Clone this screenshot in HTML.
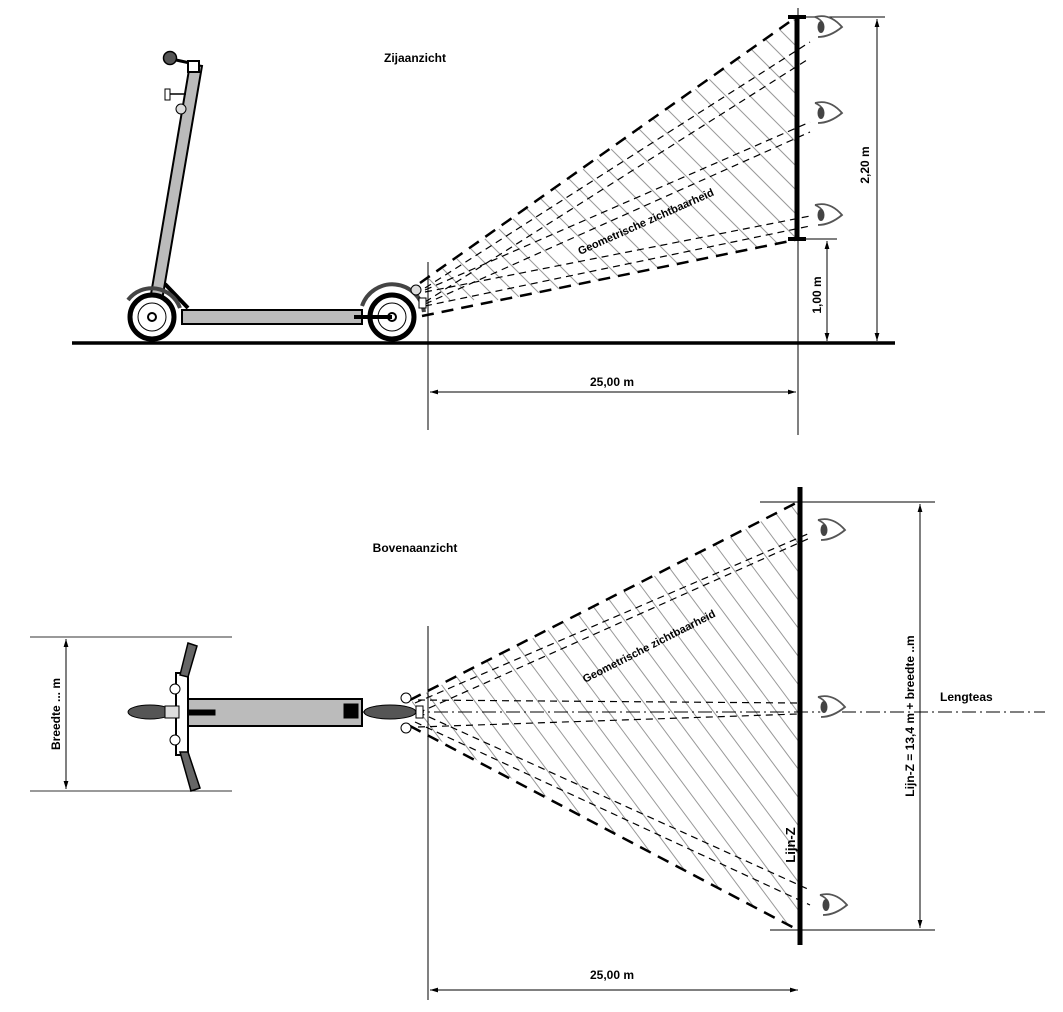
<!DOCTYPE html>
<html><head><meta charset="utf-8"><style>
html,body{margin:0;padding:0;background:#fff;}
svg{display:block;font-family:"Liberation Sans",Arial,sans-serif;}
</style></head><body>
<svg id="s" width="1063" height="1012" viewBox="0 0 1063 1012" xmlns="http://www.w3.org/2000/svg">
<defs>
<clipPath id="c1"><polygon points="420,285 797,17 797,240 425,316"/></clipPath>
<clipPath id="c2"><polygon points="412,700 799,502 799,930 412,726"/></clipPath>
<marker id="a" viewBox="0 0 10 10" refX="10" refY="5" markerWidth="8" markerHeight="8" orient="auto-start-reverse"><path d="M0,2 L10,5 L0,8 z" fill="#000"/></marker>
<g id="eye"><path d="M-11,-10 Q4,-14 16,0 Q4,10 -8,10" fill="#fff" stroke="#555" stroke-width="1.8"/><path d="M-11,-10 Q-4,-7 -3,-3" fill="none" stroke="#555" stroke-width="1.5"/><ellipse cx="-5" cy="0" rx="3.5" ry="6" fill="#444"/></g>
</defs>
<g id="hatch1" clip-path="url(#c1)" stroke="#999" stroke-width="1"></g>
<g id="hatch2" clip-path="url(#c2)" stroke="#999" stroke-width="1"></g>

<!-- TOP VIEW -->
<text x="415" y="62" font-size="12" font-weight="bold" text-anchor="middle">Zijaanzicht</text>
<line x1="72" y1="343" x2="895" y2="343" stroke="#000" stroke-width="3.5"/>
<line x1="428" y1="262" x2="428" y2="430" stroke="#000" stroke-width="1"/>
<line x1="798" y1="8" x2="798" y2="435" stroke="#000" stroke-width="1"/>
<line x1="797" y1="17" x2="797" y2="240" stroke="#000" stroke-width="5"/>
<line x1="788" y1="17" x2="806" y2="17" stroke="#000" stroke-width="4"/>
<line x1="788" y1="239" x2="806" y2="239" stroke="#000" stroke-width="4"/>
<line x1="790" y1="17" x2="885" y2="17" stroke="#000" stroke-width="1"/>
<line x1="800" y1="239" x2="837" y2="239" stroke="#000" stroke-width="1"/>
<line x1="877" y1="19" x2="877" y2="341" stroke="#000" stroke-width="1" marker-start="url(#a)" marker-end="url(#a)"/>
<line x1="827" y1="241" x2="827" y2="341" stroke="#000" stroke-width="1" marker-start="url(#a)" marker-end="url(#a)"/>
<text transform="translate(869,165) rotate(-90)" font-size="12" font-weight="bold" text-anchor="middle">2,20 m</text>
<text transform="translate(821,295) rotate(-90)" font-size="12" font-weight="bold" text-anchor="middle">1,00 m</text>
<line x1="430" y1="392" x2="796" y2="392" stroke="#000" stroke-width="1" marker-start="url(#a)" marker-end="url(#a)"/>
<text x="612" y="386" font-size="12" font-weight="bold" text-anchor="middle">25,00 m</text>
<!-- cone -->
<g fill="none" stroke="#000">
<line x1="420" y1="283" x2="795" y2="18" stroke-width="2.5" stroke-dasharray="12,8"/>
<line x1="422" y1="316" x2="795" y2="240" stroke-width="2.5" stroke-dasharray="12,8"/>
<g stroke-width="1.2" stroke-dasharray="7,5">
<line x1="425" y1="288" x2="810" y2="42"/><line x1="425" y1="302" x2="810" y2="58"/>
<line x1="425" y1="290" x2="810" y2="122"/><line x1="425" y1="304" x2="810" y2="132"/>
<line x1="425" y1="292" x2="810" y2="216"/><line x1="425" y1="306" x2="810" y2="226"/>
</g></g>
<text transform="translate(580,255) rotate(-24)" font-size="11" font-weight="bold">Geometrische zichtbaarheid</text>
<use href="#eye" x="826" y="27"/><use href="#eye" x="826" y="113"/><use href="#eye" x="826" y="215"/>
<!-- scooter side -->
<g stroke="#000">
<polygon points="148,312 160,312 202,66 190,64" fill="#bbb" stroke-width="2"/>
<polyline points="165,284 188,308" fill="none" stroke-width="4"/>
<rect x="182" y="310" width="180" height="14" fill="#bbb" stroke-width="2"/>
<circle cx="170" cy="58" r="6.5" fill="#555" stroke-width="1.5"/>
<line x1="176" y1="60" x2="190" y2="63" stroke-width="3"/>
<rect x="188" y="61" width="11" height="11" fill="#fff" stroke-width="2"/>
<rect x="165" y="89" width="5" height="11" fill="#fff" stroke-width="1"/>
<line x1="170" y1="94" x2="186" y2="94" stroke-width="1.5"/>
<circle cx="181" cy="109" r="5" fill="#ddd" stroke-width="1"/>
<circle cx="152" cy="317" r="22" fill="#fff" stroke-width="5"/>
<circle cx="152" cy="317" r="14" fill="none" stroke-width="1"/>
<circle cx="152" cy="317" r="4" fill="#fff" stroke-width="2"/>
<path d="M128,300 A30,30 0 0 1 180,308" fill="none" stroke="#444" stroke-width="4"/>
<circle cx="392" cy="317" r="22" fill="#fff" stroke-width="5"/>
<circle cx="392" cy="317" r="14" fill="none" stroke-width="1"/>
<circle cx="392" cy="317" r="4" fill="#fff" stroke-width="2"/>
<path d="M362,306 A32,32 0 0 1 424,312" fill="none" stroke="#444" stroke-width="4"/>
<line x1="354" y1="317" x2="392" y2="317" stroke-width="4"/>
<circle cx="416" cy="290" r="5" fill="#ddd" stroke-width="1"/>
<rect x="419" y="298" width="7" height="10" fill="#fff" stroke-width="1"/>
</g>

<!-- BOTTOM VIEW -->
<text x="415" y="552" font-size="12" font-weight="bold" text-anchor="middle">Bovenaanzicht</text>
<line x1="800" y1="487" x2="800" y2="945" stroke="#000" stroke-width="5"/>
<line x1="760" y1="502" x2="935" y2="502" stroke="#000" stroke-width="1"/>
<line x1="770" y1="930" x2="935" y2="930" stroke="#000" stroke-width="1"/>
<line x1="920" y1="504" x2="920" y2="928" stroke="#000" stroke-width="1" marker-start="url(#a)" marker-end="url(#a)"/>
<text transform="translate(914,716) rotate(-90)" font-size="12" font-weight="bold" text-anchor="middle">Lijn-Z = 13,4 m + breedte ..m</text>
<text x="940" y="701" font-size="12" font-weight="bold">Lengteas</text>
<line x1="428" y1="626" x2="428" y2="1000" stroke="#000" stroke-width="1"/>
<line x1="430" y1="990" x2="798" y2="990" stroke="#000" stroke-width="1" marker-start="url(#a)" marker-end="url(#a)"/>
<text x="612" y="979" font-size="12" font-weight="bold" text-anchor="middle">25,00 m</text>
<text transform="translate(795,845) rotate(-90)" font-size="13" font-weight="bold" text-anchor="middle">Lijn-Z</text>
<line x1="30" y1="637" x2="232" y2="637" stroke="#333" stroke-width="1"/>
<line x1="30" y1="791" x2="232" y2="791" stroke="#333" stroke-width="1"/>
<line x1="66" y1="639" x2="66" y2="789" stroke="#000" stroke-width="1" marker-start="url(#a)" marker-end="url(#a)"/>
<text transform="translate(60,714) rotate(-90)" font-size="12" font-weight="bold" text-anchor="middle">Breedte ... m</text>
<g fill="none" stroke="#000">
<line x1="410" y1="700" x2="798" y2="502" stroke-width="2.5" stroke-dasharray="12,8"/>
<line x1="410" y1="726" x2="798" y2="930" stroke-width="2.5" stroke-dasharray="12,8"/>
<g stroke-width="1.2" stroke-dasharray="7,5">
<line x1="415" y1="703" x2="810" y2="533"/><line x1="418" y1="713" x2="810" y2="538"/>
<line x1="418" y1="700" x2="798" y2="703"/><line x1="418" y1="727" x2="798" y2="714"/>
<line x1="415" y1="722" x2="810" y2="905"/><line x1="418" y1="712" x2="810" y2="890"/>
</g></g>
<line x1="170" y1="712" x2="1045" y2="712" stroke="#000" stroke-width="1" stroke-dasharray="14,4,2,4"/>
<text transform="translate(585,683) rotate(-27)" font-size="11" font-weight="bold">Geometrische zichtbaarheid</text>
<use href="#eye" x="829" y="530"/><use href="#eye" x="829" y="707"/><use href="#eye" x="831" y="905"/>
<!-- scooter top -->
<g stroke="#000">
<rect x="187" y="699" width="175" height="27" fill="#bbb" stroke-width="2"/>
<rect x="176" y="673" width="12" height="82" fill="#fff" stroke-width="2"/>
<polygon points="180,675 188,643 197,646 188,677" fill="#666" stroke-width="1.5"/>
<polygon points="180,752 188,752 200,788 191,791" fill="#666" stroke-width="1.5"/>
<circle cx="175" cy="689" r="5" fill="#fff" stroke-width="1"/>
<circle cx="175" cy="740" r="5" fill="#fff" stroke-width="1"/>
<ellipse cx="150" cy="712" rx="22" ry="7" fill="#555" stroke-width="1"/>
<rect x="165" y="706" width="14" height="12" fill="#ddd" stroke-width="1"/>
<rect x="189" y="710" width="26" height="5" fill="#000"/>
<rect x="344" y="704" width="14" height="14" fill="#000"/>
<ellipse cx="390" cy="712" rx="26" ry="7" fill="#555" stroke-width="1"/>
<circle cx="406" cy="698" r="5" fill="#fff" stroke-width="1"/>
<circle cx="406" cy="728" r="5" fill="#fff" stroke-width="1"/>
<rect x="416" y="706" width="7" height="12" fill="#fff" stroke-width="1"/>
</g>
</svg>
<script>
var NS="http://www.w3.org/2000/svg";
function h(id,x0,x1,y0,dx,dy,step){var g=document.getElementById(id);
for(var x=x0;x<x1;x+=step){var l=document.createElementNS(NS,"line");
l.setAttribute("x1",x);l.setAttribute("y1",y0);l.setAttribute("x2",x+dx);l.setAttribute("y2",y0+dy);g.appendChild(l);}}
h("hatch1",150,800,0,300,300,24);
h("hatch2",100,800,480,350,470,21);
</script>
</body></html>
